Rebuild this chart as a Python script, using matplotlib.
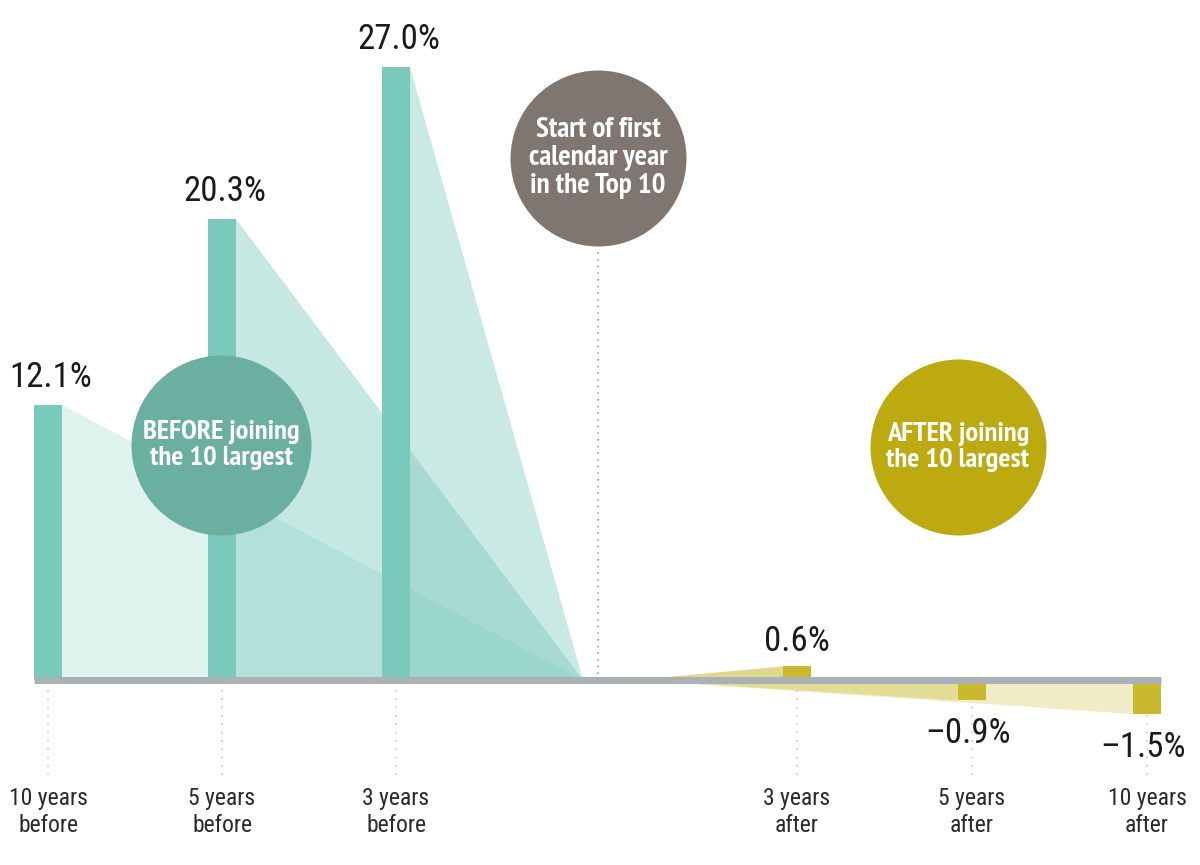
import matplotlib
matplotlib.use("Agg")
import matplotlib.pyplot as plt

plt.rcParams['font.family'] = ['Roboto Condensed', 'PT Sans Narrow', 'DejaVu Sans']
circle_font = ['PT Sans Narrow', 'Roboto Condensed', 'DejaVu Sans']

# Data
before_labels = ["10 years\nbefore", "5 years\nbefore", "3 years\nbefore"]
before_values = [12.1, 20.3, 27.0]
after_labels = ["3 years\nafter", "5 years\nafter", "10 years\nafter"]
after_values = [0.6, -0.9, -1.5]

# Layout (x in pixels, y in percent)
before_x = [48, 222, 396]
after_x = [797, 972, 1147]
bar_w = 28
before_apex = 583
after_apex = 635
divider_x = 598
px_per_pct = 22.7
base_py = 680

teal = "#79c9bc"
olive = "#c8b92e"
before_alpha = [0.24, 0.42, 0.40]
after_alpha = [0.55, 0.30, 0.27]

fig = plt.figure(figsize=(12, 8.65), dpi=100)
ax = fig.add_axes([0, 0, 1, 1])
ax.set_xlim(0, 1200)
ax.set_ylim((base_py - 865) / px_per_pct, base_py / px_per_pct)
ax.axis("off")

def px(v):
    return v / px_per_pct

# Before: triangles + bars
for x, v, a in zip(before_x, before_values, before_alpha):
    r = x + bar_w / 2
    ax.fill([r, r, before_apex], [v, 0, 0], color=teal, alpha=a, lw=0, zorder=1)
    ax.bar(x, v, width=bar_w, color=teal, zorder=2)
    ax.annotate(f"{v:.1f}%", (x + 3, v), xytext=(0, 8), textcoords="offset points",
                ha="center", va="bottom", fontsize=25, color="#1a1a1a")

# After: triangles + bars
for x, v, a in zip(after_x, after_values, after_alpha):
    l = x - bar_w / 2
    ax.fill([after_apex, l, l], [0, v, 0], color=olive, alpha=a, lw=0, zorder=1)
    ax.bar(x, v, width=bar_w, color=olive, zorder=2)
    lab = f"{v:.1f}%".replace("-", "\u2013")
    if v >= 0:
        ax.annotate(lab, (x, v), xytext=(0, 6), textcoords="offset points",
                    ha="center", va="bottom", fontsize=25, color="#1a1a1a")
    else:
        ax.annotate(lab, (x - 4, v), xytext=(0, -12), textcoords="offset points",
                    ha="center", va="top", fontsize=25, color="#1a1a1a")

# Baseline
ax.plot([before_x[0] - bar_w / 2, after_x[-1] + bar_w / 2], [0, 0],
        color="#a9b0b6", lw=5, solid_capstyle="butt", zorder=3)

# Category labels and dotted guides
for x, lab in zip(before_x + after_x, before_labels + after_labels):
    ax.plot([x, x], [px(-10), px(-100)], color="#c8c8c8", lw=1.2,
            linestyle=(0, (1, 4)), zorder=1)
    ax.text(x, px(-107), lab, ha="center", va="top", fontsize=17,
            color="#2a2a2a", linespacing=1.25)

# Divider
ax.plot([divider_x, divider_x], [px(6), px(base_py - 250)], color="#a0a0a0",
        lw=1.2, linestyle=(0, (1, 3)), zorder=1)

# Circles
circles = [
    (divider_x, base_py - 158, 176, "#7f7670", "Start of first\ncalendar year\nin the Top 10", 21),
    (221, base_py - 445, 180, "#6aaf9f", "BEFORE joining\nthe 10 largest", 20.5),
    (958, base_py - 447, 176, "#bcaa10", "AFTER joining\nthe 10 largest", 20.5),
]
for cx, cy, d, col, txt, fs in circles:
    ax.scatter([cx], [px(cy)], s=(d * 0.72) ** 2, color=col, lw=0, zorder=4)
    ax.text(cx, px(cy), txt, ha="center", va="center", fontsize=fs, family=circle_font,
            fontweight="bold", color="white", linespacing=1.1, zorder=5)

fig.savefig("out.png", dpi=100)
